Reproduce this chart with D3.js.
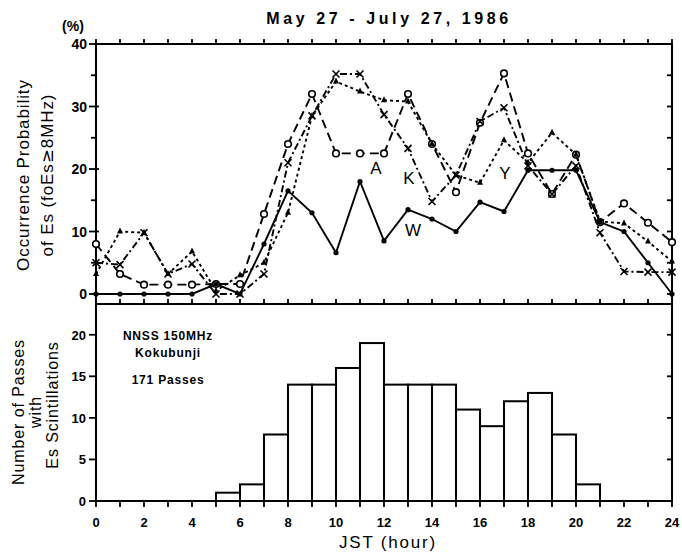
<!DOCTYPE html>
<html><head><meta charset="utf-8">
<script src="https://cdn.jsdelivr.net/npm/d3@7"></script>
<style>
body{margin:0;background:#fff;}
svg text{font-family:"Liberation Sans",Arial,sans-serif;font-weight:bold;fill:#000;}
svg text.n{font-weight:normal;}
</style></head>
<body><svg id="c" width="682" height="553"></svg>
<script>
const hours = d3.range(0, 25);
const seriesW = [0,0,0,0,0,1.6,0,8,16.5,13,6.6,18,8.5,13.5,12,10,14.7,13.2,19.8,19.8,19.8,11.5,10,5,0];
const seriesA = [8,3.2,1.5,1.5,1.5,1.6,1.6,12.8,24,32,22.5,22.5,22.5,32,24,16.3,27.4,35.3,22.5,16,22.3,11.5,14.5,11.4,8.3];
const seriesK = [5,4.7,9.8,3.2,4.8,0,0,3.2,21,28.5,35.2,35.2,28.7,23.3,14.8,19,27.6,29.8,20.5,16,20.5,9.8,3.6,3.5,3.5];
const seriesY = [3.2,10,9.8,3.2,6.8,0.5,3,5,13,28.5,34,32.4,31,30.8,24,19,17.8,24.6,21,25.8,22.3,11.6,11.3,8.4,5.2];
const seriesNames = ["A","K","Y","W"];
const passStart = [5,6,7,8,9,10,11,12,13,14,15,16,17,18,19,20];
const passCount = [1,2,8,14,14,16,19,14,14,14,11,9,12,13,8,2];
const xTickLabels = [0,2,4,6,8,10,12,14,16,18,20,22,24];
const topYTicks = [0,10,20,30,40];
const botYTicks = [0,5,10,15,20];
const title = "May 27 - July 27, 1986";

const svg = d3.select("#c");
const X0 = 96, X1 = 672;
const x = d3.scaleLinear().domain([0,24]).range([X0,X1]);
const yT = d3.scaleLinear().domain([-1.6,40]).range([304,44]);
const yB = d3.scaleLinear().domain([0,23.7]).range([501,304]);

const K = "#000";
// frames
const g = svg.append("g").attr("stroke",K).attr("stroke-width",2).attr("fill","none");
g.append("line").attr("x1",X0).attr("x2",X1).attr("y1",44).attr("y2",44);
g.append("line").attr("x1",X0).attr("x2",X1).attr("y1",304).attr("y2",304);
g.append("line").attr("x1",X0).attr("x2",X1).attr("y1",501).attr("y2",501);
g.append("line").attr("x1",X0).attr("x2",X0).attr("y1",44).attr("y2",501);
g.append("line").attr("x1",X1).attr("x2",X1).attr("y1",44).attr("y2",501);

// x ticks
const tk = svg.append("g").attr("stroke",K).attr("stroke-width",1.8);
hours.forEach(h=>{
  tk.append("line").attr("x1",x(h)).attr("x2",x(h)).attr("y1",44).attr("y2",39);
  tk.append("line").attr("x1",x(h)).attr("x2",x(h)).attr("y1",304).attr("y2",299);
  tk.append("line").attr("x1",x(h)).attr("x2",x(h)).attr("y1",501).attr("y2",507);
});
// y ticks
d3.range(0,41,5).forEach(v=>{
  const major = v%10===0;
  tk.append("line").attr("x1",X0-(major?7:5)).attr("x2",X0+(major?3:0)).attr("y1",yT(v)).attr("y2",yT(v));
  tk.append("line").attr("x1",X1).attr("x2",X1-5).attr("y1",yT(v)).attr("y2",yT(v));
});
d3.range(0,21,5).forEach(v=>{
  tk.append("line").attr("x1",X0-7).attr("x2",X0).attr("y1",yB(v)).attr("y2",yB(v));
  if(v>0) tk.append("line").attr("x1",X1).attr("x2",X1-5).attr("y1",yB(v)).attr("y2",yB(v));
});

// tick labels
topYTicks.forEach(v=>svg.append("text").attr("x",X0-9).attr("y",yT(v)+5).attr("text-anchor","end").attr("font-size",14).text(v));
botYTicks.forEach(v=>svg.append("text").attr("x",X0-10).attr("y",yB(v)+5).attr("text-anchor","end").attr("font-size",13).text(v));
xTickLabels.forEach(v=>svg.append("text").attr("x",x(v)).attr("y",527).attr("text-anchor","middle").attr("font-size",13).text(v));

// titles
svg.append("text").attr("class","n").attr("x",389).attr("y",24).attr("text-anchor","middle").attr("font-size",16).attr("letter-spacing",3.6).style("font-weight",600).text(title);
svg.append("text").attr("x",73).attr("y",31).attr("text-anchor","middle").attr("font-size",14).text("(%)");
svg.append("text").attr("class","n").attr("x",388).attr("y",548).attr("text-anchor","middle").attr("font-size",17).attr("letter-spacing",1.8).text("JST (hour)");
function vtext(cx,cy,fs){
  return svg.append("text").attr("class","n").attr("transform",`translate(${cx},${cy}) rotate(-90)`).attr("text-anchor","middle").attr("font-size",fs).attr("letter-spacing",0.9);
}
vtext(29,175,17).text("Occurrence Probability");
const t2 = vtext(53,175,17);
t2.append("tspan").text("of Es (foEs");
t2.append("tspan").style("font-family","'DejaVu Sans'").text("\u2265");
t2.append("tspan").text("8MHz)");
vtext(24,412,16).text("Number of Passes");
vtext(41,412,16).text("with");
vtext(58,405,16).text("Es Scintillations");

// histogram
svg.append("g").selectAll("rect").data(passStart).join("rect")
  .attr("x",(d)=>x(d)).attr("width",(d)=>x(d+1)-x(d))
  .attr("y",(d,i)=>yB(passCount[i])).attr("height",(d,i)=>yB(0)-yB(passCount[i]))
  .attr("fill","none").attr("stroke",K).attr("stroke-width",2);

svg.append("text").attr("x",168).attr("y",340).attr("text-anchor","middle").attr("font-size",12).attr("letter-spacing",0.8).text("NNSS 150MHz");
svg.append("text").attr("x",168).attr("y",357).attr("text-anchor","middle").attr("font-size",12).attr("letter-spacing",0.8).text("Kokubunji");
svg.append("text").attr("x",168).attr("y",384).attr("text-anchor","middle").attr("font-size",12).attr("letter-spacing",0.8).text("171 Passes");

// series
const line = d3.line().x((d,i)=>x(hours[i])).y(d=>yT(d));
const styles = {
  A:{data:seriesA,dash:"9,5"},
  K:{data:seriesK,dash:"7,3,2,3"},
  Y:{data:seriesY,dash:"3,3"},
  W:{data:seriesW,dash:null}
};
seriesNames.forEach(n=>{
  const s = styles[n];
  const p = svg.append("path").datum(s.data).attr("d",line).attr("fill","none").attr("stroke",K).attr("stroke-width",1.9);
  if(s.dash) p.attr("stroke-dasharray",s.dash);
});
// markers
svg.append("g").selectAll("circle").data(seriesA).join("circle")
  .attr("cx",(d,i)=>x(hours[i])).attr("cy",d=>yT(d)).attr("r",3.3).attr("fill","#fff").attr("stroke",K).attr("stroke-width",1.6);
svg.append("g").selectAll("path").data(seriesK).join("path")
  .attr("d",(d,i)=>{const cx=x(hours[i]),cy=yT(d),r=3.5;return `M${cx-r},${cy-r}L${cx+r},${cy+r}M${cx-r},${cy+r}L${cx+r},${cy-r}`;})
  .attr("stroke",K).attr("stroke-width",1.6);
svg.append("g").selectAll("path").data(seriesY).join("path")
  .attr("d",(d,i)=>{const cx=x(hours[i]),cy=yT(d);return `M${cx},${cy-4}L${cx+3},${cy+2}L${cx-3},${cy+2}Z`;})
  .attr("fill",K);
svg.append("g").selectAll("circle").data(seriesW).join("circle")
  .attr("cx",(d,i)=>x(hours[i])).attr("cy",d=>yT(d)).attr("r",2.6).attr("fill",K);

// series labels
const lab = [["A",376,174],["K",409,184],["Y",505,179],["W",413,236]];
lab.forEach(l=>svg.append("text").attr("class","n").attr("x",l[1]).attr("y",l[2]).attr("text-anchor","middle").attr("font-size",17).text(l[0]));
</script></body></html>
